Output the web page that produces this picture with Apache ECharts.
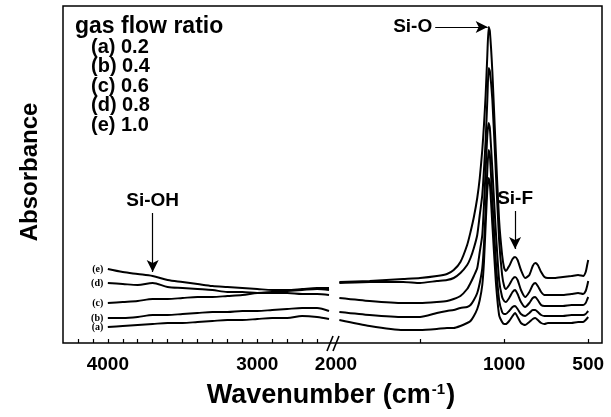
<!DOCTYPE html>
<html>
<head>
<meta charset="utf-8">
<script src="https://cdn.jsdelivr.net/npm/echarts@6/dist/echarts.min.js"></script>
<style>
  html, body { margin: 0; padding: 0; background: #fff; }
  #chart { width: 611px; height: 417px; }
</style>
</head>
<body>
<div id="chart"></div>
<script>
// FTIR absorbance spectra for five gas flow ratios, on a broken wavenumber axis.

// High-wavenumber segment (cm-1)
const leftWavenumbers = [4000, 3900, 3800, 3700, 3600, 3500, 3400, 3300, 3200, 3100, 3000, 2900, 2800, 2700, 2600, 2520];
const leftA = [16, 17, 18, 19, 20, 20, 21, 22, 23, 23, 24, 25, 25, 27, 26, 24];
const leftB = [25, 25, 26, 28, 28, 29, 30, 31, 31, 32, 32, 33, 34, 35, 35, 32];
const leftC = [40, 41, 42, 44, 44, 45, 46, 46, 47, 48, 50, 51, 52, 53, 54, 53];
const leftD = [60, 59, 58, 60, 56, 55, 54, 53, 51, 51, 50, 50, 50, 49, 49, 48];
const leftE = [74, 71, 69, 67, 63, 61, 59, 57, 56, 55, 54, 53, 53, 54, 55, 55];

// Low-wavenumber segment (cm-1)
const rightWavenumbers = [1980, 1800, 1600, 1500, 1400, 1340, 1300, 1260, 1220, 1200,
  1180, 1160, 1145, 1130, 1120, 1110, 1100, 1092, 1085, 1070,
  1050, 1030, 1012, 1000, 990, 970, 950, 935, 920, 900,
  875, 850, 830, 815, 800, 780, 760, 740, 700, 650,
  600, 560, 530, 515, 505, 500];
const rightA = [23, 17, 13, 13, 14, 15, 15, 17, 20, 22, 27, 34, 43, 58, 81, 118, 153, 165, 160, 118,
  63, 28, 21, 19, 19, 22, 27, 30, 26, 20, 18, 21, 24, 25, 23, 20, 19, 20, 20, 20, 20, 21, 21, 23, 25, 26];
const rightB = [31, 28, 26, 26, 30, 32, 33, 35, 36, 38, 43, 50, 60, 75, 98, 133, 173, 193, 188, 143,
  83, 43, 31, 29, 29, 32, 36, 37, 34, 29, 27, 30, 33, 33, 31, 28, 27, 27, 27, 27, 28, 28, 28, 29, 31, 32];
const rightC = [45, 42, 40, 40, 41, 42, 44, 47, 54, 60, 67, 75, 91, 108, 138, 173, 208, 220, 215, 173,
  113, 63, 46, 42, 41, 45, 51, 53, 49, 41, 36, 40, 45, 46, 43, 38, 37, 37, 37, 37, 38, 38, 38, 40, 44, 46];
const rightD = [60, 61, 61, 60, 62, 63, 65, 70, 78, 85, 95, 108, 128, 148, 173, 203, 243, 275, 272, 243,
  173, 103, 68, 57, 54, 58, 64, 66, 63, 53, 46, 51, 58, 60, 57, 51, 48, 48, 48, 48, 49, 50, 49, 52, 58, 62];
const rightE = [61, 62, 64, 65, 67, 69, 73, 81, 98, 111, 126, 145, 165, 193, 218, 248, 288, 316, 312, 271,
  193, 123, 88, 75, 72, 77, 84, 86, 83, 73, 65, 68, 77, 80, 78, 71, 66, 65, 65, 66, 67, 68, 67, 71, 79, 83];

const sampleTags = ['(a)', '(b)', '(c)', '(d)', '(e)'];
const flowRatios = ['0.2', '0.4', '0.6', '0.8', '1.0'];
const legendTitle = 'gas flow ratio';

const leftTickLabels = [4000, 3000];
const rightTickLabels = [2000, 1000, 500];
const rightTickMarks = [1500, 1000, 500];

// Band assignments: [label, from wavenumber, from value, to wavenumber, to value]
const siOArrow = ['Si-O', 1410, 316, 1098, 316];
const siFArrow = ['Si-F', 935, 132, 935, 94];
const siOHArrow = ['Si-OH', 3700, 130, 3700, 71];

const leftMinorTicks = [];
for (let w = 4200; w >= 2600; w -= 100) leftMinorTicks.push(w);

const FONT = '"Liberation Sans", Arial, sans-serif';
const leftSets = [leftA, leftB, leftC, leftD, leftE];
const rightSets = [rightA, rightB, rightC, rightD, rightE];

function arrowLine(specs) {
  return {
    silent: true,
    symbol: ['none', 'arrow'],
    symbolSize: [9, 12],
    lineStyle: { color: '#000', width: 1.2, type: 'solid' },
    label: {
      show: true, position: 'start', distance: 3,
      formatter: p => p.name,
      color: '#000', fontSize: 19, fontWeight: 'bold', fontFamily: FONT
    },
    data: specs.map(([text, x0, y0, x1, y1]) => [
      { name: text, coord: [x0, y0] },
      { coord: [x1, y1] }
    ])
  };
}

const series = [];
leftSets.forEach((vals, i) => {
  const s = {
    type: 'line', name: sampleTags[i], xAxisIndex: 0, yAxisIndex: 0,
    data: leftWavenumbers.map((w, k) => [w, vals[k]]),
    showSymbol: false, smooth: 0.3, silent: true,
    lineStyle: { color: '#000', width: 2 },
    markPoint: {
      silent: true, symbol: 'circle', symbolSize: 1,
      itemStyle: { color: 'rgba(0,0,0,0)' },
      label: {
        show: true, position: 'left', distance: 4, formatter: sampleTags[i],
        color: '#000', fontSize: 10, fontWeight: 'bold', fontFamily: '"Liberation Serif", serif'
      },
      data: [{ coord: [leftWavenumbers[0], vals[0]] }]
    }
  };
  if (i === 4) s.markLine = arrowLine([siOHArrow]);
  series.push(s);
});
rightSets.forEach((vals, i) => {
  const s = {
    type: 'line', name: sampleTags[i], xAxisIndex: 1, yAxisIndex: 1,
    data: rightWavenumbers.map((w, k) => [w, vals[k]]),
    showSymbol: false, smooth: 0.2, silent: true,
    lineStyle: { color: '#000', width: 2 }
  };
  if (i === 4) s.markLine = arrowLine([siOArrow, siFArrow]);
  series.push(s);
});

const tickLabelStyle = {
  color: '#000', fontSize: 19, fontWeight: 'bold', fontFamily: FONT, margin: 12,
  formatter: v => String(v)
};
const tickStyle = { show: true, inside: true, length: 4, lineStyle: { color: '#000', width: 1.2 } };

const legendGraphics = [{
  type: 'text', left: 75, top: 15,
  style: { text: legendTitle, font: 'bold 23px ' + FONT, fill: '#000' }
}];
flowRatios.forEach((r, i) => {
  legendGraphics.push({
    type: 'text', left: 91, top: 37 + i * 19.5,
    style: { text: sampleTags[i] + ' ' + r, font: 'bold 20px ' + FONT, fill: '#000' }
  });
});

const chart = echarts.init(document.getElementById('chart'), null, { renderer: 'canvas' });
chart.setOption({
  animation: false,
  backgroundColor: '#fff',
  grid: [
    { left: 63, top: 6, width: 269, height: 337, containLabel: false },
    { left: 336, top: 6, width: 266, height: 337, containLabel: false }
  ],
  xAxis: [
    {
      gridIndex: 0, type: 'value', min: 2500, max: 4300, inverse: true,
      axisLine: { show: false }, splitLine: { show: false },
      axisTick: Object.assign({ customValues: leftMinorTicks }, tickStyle),
      axisLabel: Object.assign({ customValues: leftTickLabels }, tickLabelStyle)
    },
    {
      gridIndex: 1, type: 'value', min: 418, max: 2000, inverse: true,
      axisLine: { show: false }, splitLine: { show: false },
      axisTick: Object.assign({ customValues: rightTickMarks }, tickStyle),
      axisLabel: Object.assign({ customValues: rightTickLabels }, tickLabelStyle)
    }
  ],
  yAxis: [
    { gridIndex: 0, type: 'value', min: 0, max: 337, show: false },
    { gridIndex: 1, type: 'value', min: 0, max: 337, show: false }
  ],
  series: series,
  graphic: [
    // plot frame
    { type: 'rect', silent: true, z: 10, shape: { x: 63, y: 6, width: 539, height: 337 },
      style: { fill: 'none', stroke: '#000', lineWidth: 1.5 } },
    // axis break marks
    { type: 'line', silent: true, z: 11, shape: { x1: 327, y1: 351, x2: 333, y2: 336 },
      style: { stroke: '#000', lineWidth: 1.6 } },
    { type: 'line', silent: true, z: 11, shape: { x1: 333, y1: 351, x2: 339, y2: 336 },
      style: { stroke: '#000', lineWidth: 1.6 } },
    // axis titles
    { type: 'text', x: 331, y: 396, silent: true,
      style: {
        text: '{t|Wavenumber (cm}{s|-1}{t|)}', align: 'center', verticalAlign: 'middle',
        rich: {
          t: { font: 'bold 27px ' + FONT, fill: '#000', color: '#000' },
          s: { font: 'bold 15px ' + FONT, fill: '#000', color: '#000', verticalAlign: 'top', padding: [0, 1, 13, 1] }
        }
      } },
    { type: 'text', x: 30, y: 172, rotation: Math.PI / 2, silent: true,
      style: { text: 'Absorbance', align: 'center', verticalAlign: 'middle', font: 'bold 24px ' + FONT, fill: '#000' } }
  ].concat(legendGraphics)
});
</script>
</body>
</html>
